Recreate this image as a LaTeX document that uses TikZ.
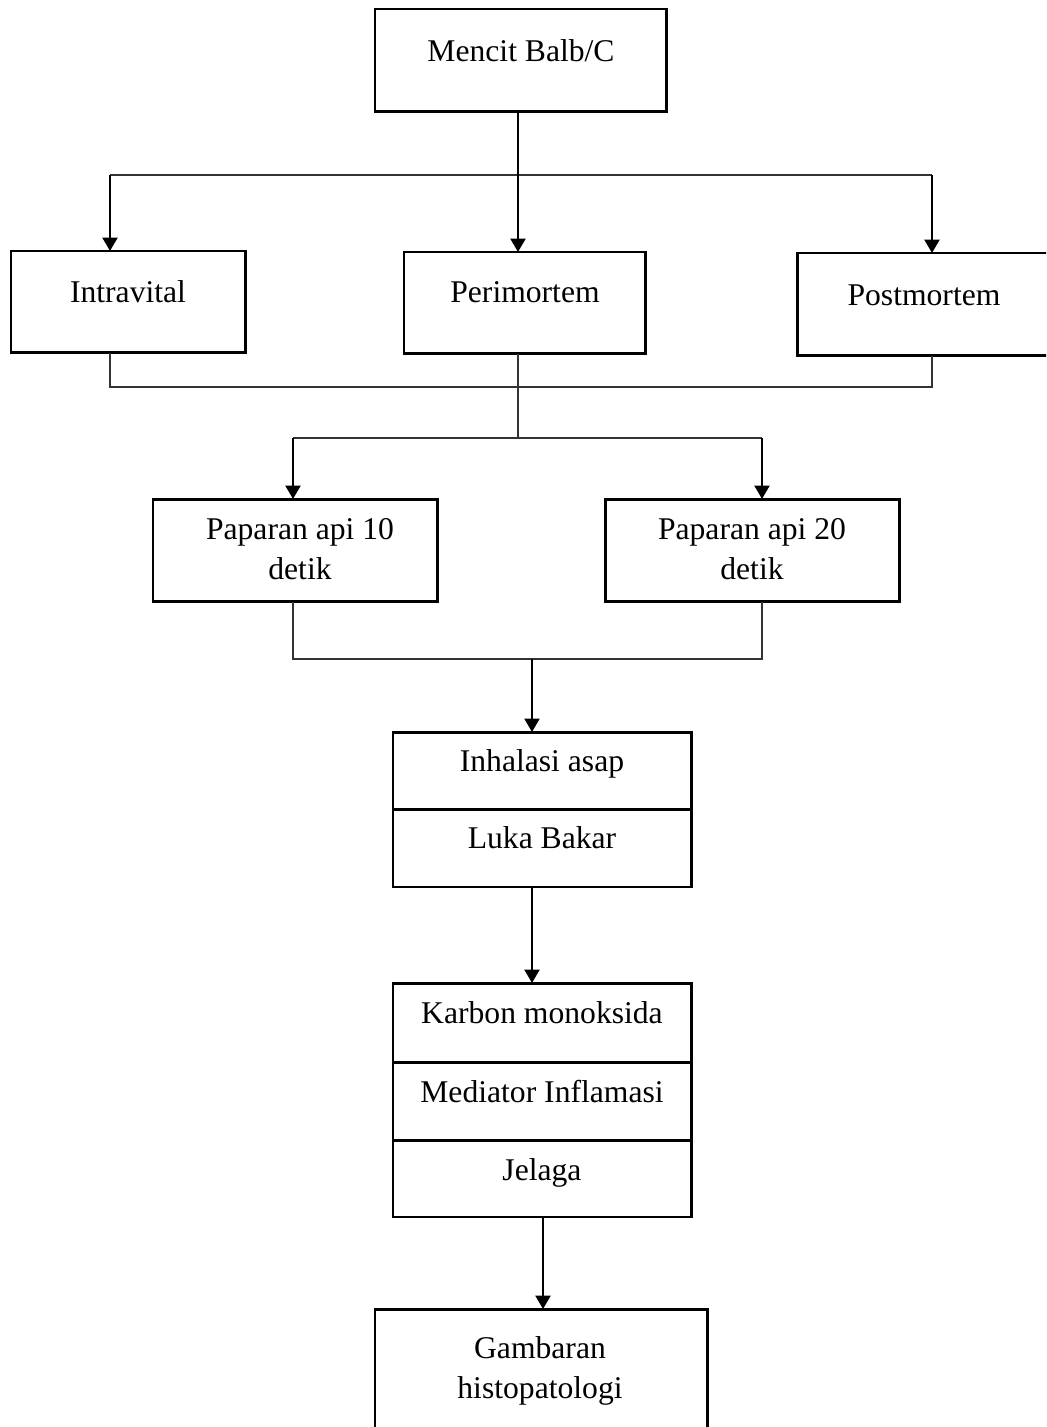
\documentclass[tikz,border=0pt]{standalone}
\usepackage{fontspec}
\setmainfont{Liberation Serif}
\usetikzlibrary{arrows.meta}

\begin{document}
\begin{tikzpicture}[x=0.02cm, y=-0.02cm,
  kotak/.style={draw, line width=1.7pt, inner sep=0pt, outer sep=0pt, anchor=north west},
  teks/.style={inner sep=0pt, align=center, font=\fontsize{18}{22.8}\selectfont},
  panah/.style={line width=1.4pt, -{Triangle[width=0.3cm, length=0.27cm]}},
  garis/.style={line width=0.6pt, black!80}]
  \path[use as bounding box, clip] (0,0) rectangle (1046,1427);

  % kotak
  \node[kotak, minimum width=5.84cm, minimum height=2.06cm] (mencit) at (375,9) {};
  \node[kotak, minimum width=4.70cm, minimum height=2.04cm] (intra) at (11,251) {};
  \node[kotak, minimum width=4.84cm, minimum height=2.04cm] (peri) at (404,252) {};
  \node[kotak, minimum width=5.20cm, minimum height=2.06cm] (post) at (797,253) {};
  \node[kotak, minimum width=5.70cm, minimum height=2.06cm] (pap10) at (153,499) {};
  \node[kotak, minimum width=5.90cm, minimum height=2.06cm] (pap20) at (605,499) {};
  \node[kotak, minimum width=5.98cm, minimum height=1.54cm] (inhal) at (393,732) {};
  \node[kotak, minimum width=5.98cm, minimum height=1.56cm] (luka) at (393,809) {};
  \node[kotak, minimum width=5.98cm, minimum height=1.58cm] (karbon) at (393,983) {};
  \node[kotak, minimum width=5.98cm, minimum height=1.56cm] (mediator) at (393,1062) {};
  \node[kotak, minimum width=5.98cm, minimum height=1.54cm] (jelaga) at (393,1140) {};
  \node[kotak, minimum width=6.66cm, minimum height=2.80cm] (gambaran) at (375,1309) {};

  % teks
  \node[teks, anchor=base] (t-mencit) at (521,61) {Mencit Balb/C};
  \node[teks, anchor=base] (t-intra) at (128,302) {Intravital};
  \node[teks, anchor=base] (t-peri) at (525,302) {Perimortem};
  \node[teks, anchor=base] (t-post) at (924,305) {Postmortem};
  \node[teks, anchor=north] (t-pap10) at (300,518) {Paparan api 10\\detik};
  \node[teks, anchor=north] (t-pap20) at (752,518) {Paparan api 20\\detik};
  \node[teks, anchor=base] (t-inhal) at (542,771) {Inhalasi asap};
  \node[teks, anchor=base] (t-luka) at (542,848) {Luka Bakar};
  \node[teks, anchor=base] (t-karbon) at (542,1023) {Karbon monoksida};
  \node[teks, anchor=base] (t-mediator) at (542,1102) {Mediator Inflamasi};
  \node[teks, anchor=base] (t-jelaga) at (542,1180) {Jelaga};
  \node[teks, anchor=north] (t-gambaran) at (540,1336) {Gambaran\\histopatologi};

  % titik cabang
  \coordinate (c1) at (518,175);
  \coordinate (ki1) at (110,175);
  \coordinate (ka1) at (932,175);
  \coordinate (c2) at (518,387);
  \coordinate (c3) at (518,438);
  \coordinate (ki3) at (293,438);
  \coordinate (ka3) at (762,438);
  \coordinate (c4) at (532,659);
  \coordinate (c5) at (543,1260);

  % garis dan panah
  \draw[garis] (ki1) -- (ka1);
  \draw[panah] (mencit.south -| c1) -- (peri.north -| c1);
  \draw[panah] (ki1) -- (intra.north -| ki1);
  \draw[panah] (ka1) -- (post.north -| ka1);
  \draw[garis] (intra.south -| ki1) |- (c2) -| (post.south -| ka1);
  \draw[garis] (peri.south -| c1) -- (c3);
  \draw[garis] (ki3) -- (ka3);
  \draw[panah] (ki3) -- (pap10.north -| ki3);
  \draw[panah] (ka3) -- (pap20.north -| ka3);
  \draw[garis] (pap10.south -| ki3) |- (c4) -| (pap20.south -| ka3);
  \draw[panah] (c4) -- (inhal.north -| c4);
  \draw[panah] (luka.south -| c4) -- (karbon.north -| c4);
  \draw[panah] (jelaga.south -| c5) -- (gambaran.north -| c5);
\end{tikzpicture}
\end{document}
